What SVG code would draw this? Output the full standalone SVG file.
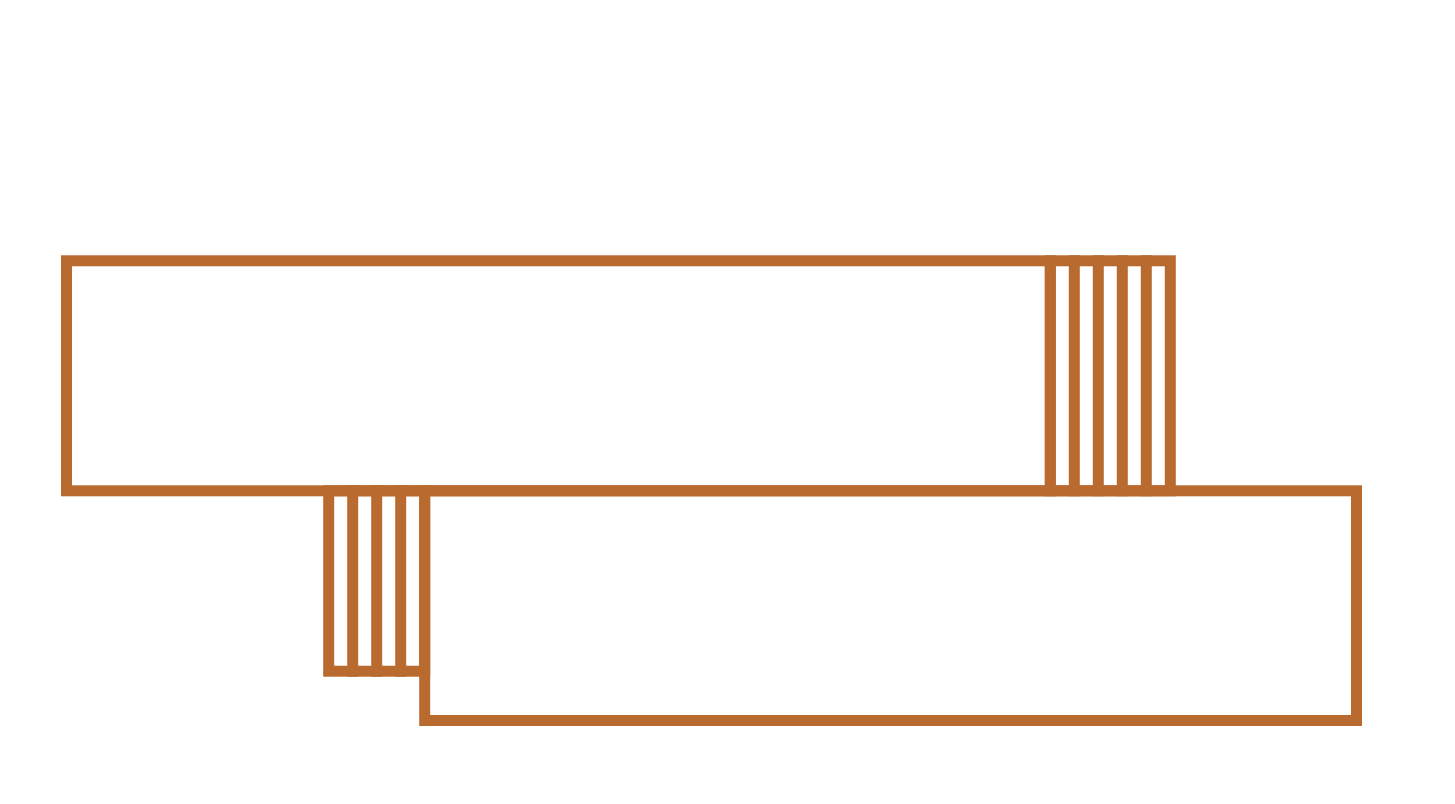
<svg xmlns="http://www.w3.org/2000/svg" width="1455" height="804" viewBox="0 0 1455 804">
<style>
.s{fill:none;stroke:#b96b2f;stroke-width:11;stroke-linecap:square}
</style>
<rect width="1455" height="804" fill="#ffffff"/>
<g id="top-block">
<rect class="s" x="66.5" y="260.8" width="983.8" height="230"/>
</g>
<g id="top-stripes">
<rect class="s" x="1050.3" y="260.8" width="120" height="230"/>
<path class="s" d="M1074.3 260.8V490.8M1098.3 260.8V490.8M1122.3 260.8V490.8M1146.3 260.8V490.8" stroke-linecap="butt"/>
</g>
<g id="bottom-block">
<rect class="s" x="424.7" y="490.8" width="931.8" height="229.7"/>
</g>
<g id="bottom-stripes">
<rect class="s" x="328.7" y="490.8" width="96" height="180.4"/>
<path class="s" d="M352.7 490.8V671.2M376.7 490.8V671.2M400.7 490.8V671.2" stroke-linecap="butt"/>
</g>
<g id="connectors"></g>
</svg>
